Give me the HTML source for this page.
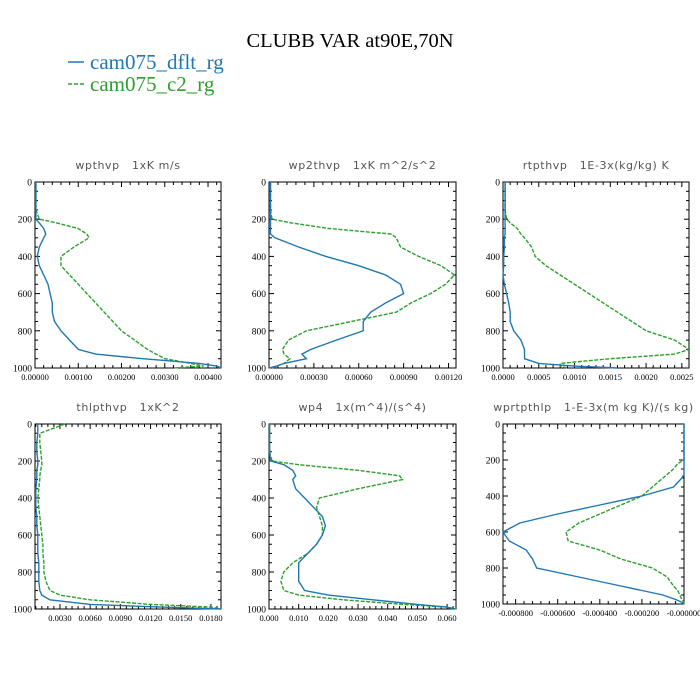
<!DOCTYPE html>
<html><head><meta charset="utf-8"><style>
html,body{margin:0;padding:0;background:#fff}
svg{display:block}
</style></head><body>
<svg id="chart" width="700" height="700" viewBox="0 0 700 700" xmlns="http://www.w3.org/2000/svg">
<rect width="700" height="700" fill="#fff"/>
<text x="350" y="47" text-anchor="middle" font-family="Liberation Serif, serif" font-size="20.5">CLUBB VAR at90E,70N</text>
<g>
<g><line x1="68" y1="62" x2="84" y2="62" stroke="#1f77b4" stroke-width="1.5"/><text x="90" y="69" fill="#1f77b4" font-family="Liberation Serif, serif" font-size="21">cam075_dflt_rg</text></g>
<g><line x1="68" y1="84" x2="84" y2="84" stroke="#2ca02c" stroke-width="1.5" stroke-dasharray="4,2"/><text x="90" y="91" fill="#2ca02c" font-family="Liberation Serif, serif" font-size="21">cam075_c2_rg</text></g>
</g>
<g id="panels"></g>
</svg>
<script>
const levels=[0,50,100,150,200,220,250,280,300,350,400,450,500,550,600,650,700,750,800,850,900,925,950,975,990,1000];
const titles=["wpthvp   1xK m/s","wp2thvp   1xK m^2/s^2","rtpthvp   1E-3x(kg/kg) K","thlpthvp   1xK^2","wp4   1x(m^4)/(s^4)","wprtpthlp   1-E-3x(m kg K)/(s kg)"];
const blue1=[0.00002,0.00002,0.00002,0.00002,0.00002,0.0001,0.0002,0.00025,0.0002,0.0001,0.00005,0.0001,0.0002,0.0003,0.00035,0.0004,0.0004,0.00045,0.0006,0.0008,0.001,0.0014,0.0025,0.0038,0.0042,0.0043];
const green1=[0.00002,0.00002,0.00002,0.00002,0.0001,0.0005,0.001,0.0012,0.00125,0.0009,0.0006,0.0006,0.0008,0.001,0.0012,0.0014,0.0016,0.0018,0.002,0.0023,0.0026,0.0028,0.003,0.0036,0.0039,0.0032];
const blue2=[0.00001,0.00001,0.00001,0.00001,0.00001,0.00001,0.00001,0.00001,0.00004,0.0002,0.00038,0.0006,0.00078,0.00088,0.0009,0.00078,0.00068,0.00063,0.00063,0.00045,0.00028,0.00022,0.00025,0.0001,0.00005,0];
const green2=[0.00001,0.00001,0.00001,0.00001,0.00002,0.00015,0.0004,0.00082,0.00085,0.00088,0.001,0.00115,0.00124,0.00118,0.00108,0.00095,0.00085,0.00055,0.00025,0.00013,0.00009,0.0001,0.00014,0.0001,0.00005,0.00002];
const blue3=[0.00003,0.00003,0.00003,0.00003,0.00003,0.00003,0.00003,0.00003,0.00002,0.00002,0.00001,0.00001,0,0.00002,0.00005,0.00008,0.0001,0.0001,0.00015,0.00025,0.0003,0.0003,0.0003,0.0005,0.001,0.0016];
const green3=[0.00003,0.00003,0.00003,0.00003,0.00005,0.0001,0.0002,0.00025,0.0003,0.0004,0.00045,0.0006,0.0008,0.001,0.0012,0.0014,0.0016,0.0018,0.002,0.0024,0.0026,0.0024,0.0015,0.0008,0.0008,0.0009];
const blue4=[0.0008,0.0008,0.0007,0.0007,0.0008,0.0008,0.0007,0.0007,0.0007,0.0006,0.0006,0.0006,0.0007,0.0007,0.0008,0.0008,0.0008,0.0009,0.0009,0.0009,0.001,0.0012,0.002,0.006,0.013,0.019];
const green4=[0.0035,0.001,0.001,0.0011,0.0012,0.0012,0.0011,0.001,0.001,0.0009,0.0008,0.0009,0.001,0.0011,0.0012,0.0013,0.0013,0.0014,0.0014,0.0016,0.002,0.003,0.006,0.012,0.018,0.019];
const blue5=[0.0002,0.0002,0.0002,0.0002,0.0005,0.005,0.008,0.009,0.008,0.009,0.012,0.015,0.018,0.019,0.018,0.016,0.013,0.01,0.01,0.01,0.012,0.02,0.035,0.05,0.06,0.062];
const green5=[0.0002,0.0002,0.0002,0.0002,0.001,0.01,0.03,0.044,0.045,0.03,0.017,0.016,0.017,0.018,0.018,0.016,0.013,0.008,0.005,0.004,0.005,0.01,0.025,0.045,0.06,0.063];
const blue6=[0,0,0,0,0,0,0,0,-0.00001,-0.00005,-0.0002,-0.0004,-0.0006,-0.00078,-0.00086,-0.00083,-0.00075,-0.00072,-0.0007,-0.0005,-0.0003,-0.0002,-0.0001,-0.00004,-0.00001,0];
const green6=[0,0,0,0,0,-0.00003,-0.00005,-0.00008,-0.0001,-0.00015,-0.0002,-0.0003,-0.0004,-0.0005,-0.00056,-0.00055,-0.0004,-0.0003,-0.00015,-0.00008,-0.00005,-0.00003,-0.00002,-0.00001,0,0];
const xTicks1=["0.00000","0.00100","0.00200","0.00300","0.00400"];
const xTicks2=["0.00000","0.00030","0.00060","0.00090","0.00120"];
const xTicks3=["0.0000","0.0005","0.0010","0.0015","0.0020","0.0025"];
const xTicks4=["0.0030","0.0060","0.0090","0.0120","0.0150","0.0180"];
const xTicks5=["0.000","0.010","0.020","0.030","0.040","0.050","0.060"];
const xTicks6=["-0.000800","-0.000600","-0.000400","-0.000200","-0.000000"];
const yTicks=[0,200,400,600,800,1000];

const panels=[
 {x0:35,x1:221,y0:182,y1:368,xmin:0,xmax:0.0043,b:blue1,g:green1,t:xTicks1,title:titles[0]},
 {x0:269,x1:456,y0:182,y1:368,xmin:0,xmax:0.00125,b:blue2,g:green2,t:xTicks2,title:titles[1]},
 {x0:503,x1:689,y0:182,y1:368,xmin:0,xmax:0.0026,b:blue3,g:green3,t:xTicks3,title:titles[2]},
 {x0:35,x1:221,y0:424,y1:609,xmin:0.00052,xmax:0.0190,b:blue4,g:green4,t:xTicks4,title:titles[3]},
 {x0:269,x1:456,y0:424,y1:609,xmin:0,xmax:0.063,b:blue5,g:green5,t:xTicks5,title:titles[4]},
 {x0:503,x1:684,y0:424,y1:604,xmin:-0.00086,xmax:0,b:blue6,g:green6,t:xTicks6,title:titles[5]}
];
const NS="http://www.w3.org/2000/svg";
const root=document.getElementById('panels');
function mk(tag,attrs,parent){const e=document.createElementNS(NS,tag);for(const k in attrs)e.setAttribute(k,attrs[k]);parent.appendChild(e);return e;}
panels.forEach((p,i)=>{
 const g=mk('g',{},root);
 
 
 const sx=v=>p.x0+(v-p.xmin)/(p.xmax-p.xmin)*(p.x1-p.x0);
 const sy=v=>p.y0+v/1000*(p.y1-p.y0);
 const tt=mk('text',{x:(p.x0+p.x1)/2,y:p.y0-13,'text-anchor':'middle','font-family':'DejaVu Sans, sans-serif','font-size':11,fill:'#555','letter-spacing':'0.6',style:'white-space:pre'},g);
 tt.textContent=p.title;
 
 
 const fr=mk('rect',{x:p.x0,y:p.y0,width:p.x1-p.x0,height:p.y1-p.y0,fill:'none',stroke:'#000','stroke-width':1},g);
 
 
 for(let v=0;v<=1000;v+=50){const y=sy(v);const L=v%200==0?5:3;
  mk('line',{x1:p.x0,y1:y,x2:p.x0+L,y2:y,stroke:'#000','stroke-width':1},g);
  mk('line',{x1:p.x1,y1:y,x2:p.x1-L,y2:y,stroke:'#000','stroke-width':1},g);}
 yTicks.forEach(v=>{const t=mk('text',{x:p.x0-3,y:sy(v)+3.5,'text-anchor':'end','font-family':'Liberation Serif, serif','font-size':9.5},g);t.textContent=v;
  
  });
 const vals=p.t.map(Number);const step=vals[1]-vals[0];
 for(let k=-10;k<60;k++){const v=vals[0]+k*step/5;if(v<p.xmin-1e-12||v>p.xmax+1e-12)continue;const x=sx(v);const L=k%5==0?5:3;
  mk('line',{x1:x,y1:p.y1,x2:x,y2:p.y1-L,stroke:'#000','stroke-width':1},g);
  mk('line',{x1:x,y1:p.y0,x2:x,y2:p.y0+L,stroke:'#000','stroke-width':1},g);}
 p.t.forEach(s=>{const t=mk('text',{x:sx(Number(s)),y:p.y1+12,'text-anchor':'middle','font-family':'Liberation Serif, serif','font-size':8.5},g);t.textContent=s;
  
  });
 const line=(arr,col,dash,name)=>{const d=arr.map((v,j)=>(j?'L':'M')+sx(v).toFixed(1)+','+sy(levels[j]).toFixed(1)).join('');
  const pa=mk('path',{d:d,fill:'none',stroke:col,'stroke-width':1.4},g);if(dash)pa.setAttribute('stroke-dasharray',dash);
  
  };
 line(p.g,'#2ca02c','4,1.5','series-c2');
 line(p.b,'#1f77b4',null,'series-dflt');
});
</script>
</body></html>
